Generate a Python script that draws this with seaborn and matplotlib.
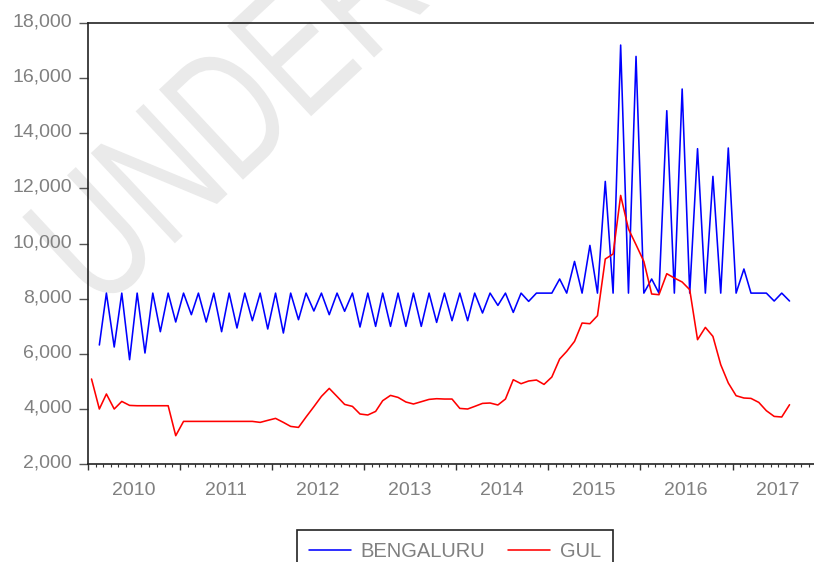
import matplotlib
matplotlib.use("Agg")
import matplotlib.pyplot as plt
import matplotlib.dates as mdates
import matplotlib.ticker as mticker
import matplotlib.patheffects as pe
from matplotlib.transforms import Affine2D, ScaledTranslation
import pandas as pd
import seaborn as sns

# monthly observations, Jan 2010 .. Aug 2017
months = pd.date_range("2010-01-01", periods=92, freq="MS")

# GUL starts Jan 2010
gul = [5084, 3995, 4540, 3995, 4271, 4126, 4114, 4114, 4114, 4114, 4114, 3027,
       3546, 3546, 3546, 3546, 3546, 3546, 3546, 3546, 3546, 3546, 3510, 3583,
       3655, 3510, 3364, 3328, 3705, 4079, 4453, 4743, 4450, 4162, 4090, 3814,
       3778, 3908, 4297, 4489, 4416, 4250, 4177, 4260, 4344, 4369, 4357, 4357,
       4017, 3995, 4090, 4199, 4213, 4141, 4357, 5058, 4913, 5011, 5047, 4888,
       5156, 5809, 6085, 6448, 7115, 7090, 7380, 9437, 9619, 11745, 10526, 9956,
       9350, 8168, 8142, 8904, 8748, 8603, 8324, 6510, 6956, 6630, 5603, 4939,
       4478, 4394, 4380, 4235, 3934, 3727, 3705, 4151]

# BENGALURU starts Feb 2010
bengaluru = [6317, 8200, 6245, 8200, 5784, 8200, 6027, 8200, 6800, 8200, 7152,
             8200, 7417, 8200, 7152, 8200, 6800, 8200, 6934, 8200, 7199, 8200, 6898,
             8200, 6752, 8200, 7235, 8200, 7551, 8200, 7417, 8200, 7540, 8200, 6970,
             8200, 6993, 8200, 6993, 8200, 6993, 8200, 6993, 8200, 7137, 8200, 7199,
             8200, 7199, 8200, 7478, 8200, 7754, 8200, 7500, 8200, 7900, 8200, 8200,
             8200, 8712, 8200, 9350, 8200, 9931, 8200, 12253, 8200, 17200, 8200, 16788,
             8200, 8712, 8200, 14818, 8200, 15605, 8200, 13440, 8200, 12435, 8200, 13465,
             8200, 9075, 8200, 8200, 8200, 7913, 8200, 7913]

series_names = ["BENGALURU", "GUL"]
series_colors = {"BENGALURU": "#0000ff", "GUL": "#ff0000"}

# points sit in the middle of each month
mid = months + pd.Timedelta(days=14)
df = pd.concat([
    pd.DataFrame({"date": mid[1:], "value": bengaluru, "series": "BENGALURU"}),
    pd.DataFrame({"date": mid, "value": gul, "series": "GUL"}),
], ignore_index=True)


# squeeze glyphs horizontally (the watermark font is a narrow one)
class Squeeze(pe.AbstractPathEffect):
    def __init__(self, sx):
        super().__init__()
        self._sx = sx

    def draw_path(self, renderer, gc, tpath, affine, rgbFace=None):
        renderer.draw_path(gc, tpath, Affine2D().scale(self._sx, 1.0) + affine, rgbFace)


sns.set_style("ticks")
plt.rcParams["font.family"] = ["Liberation Sans", "DejaVu Sans"]

grey = "#808080"
fig = plt.figure(figsize=(8.14, 5.62), dpi=100)
fig.patch.set_facecolor("white")
ax = fig.add_axes([88 / 814, 1 - 464 / 562, (814 - 88) / 814, (464 - 23) / 562])
ax.set_facecolor("none")

# watermark behind the axes
fig.text(99 / 814, 1 - 314 / 562, "UNDER", rotation=43, rotation_mode="anchor",
         ha="left", va="baseline", fontsize=129, color="#eaeaea", zorder=-1,
         path_effects=[Squeeze(0.72)])

sns.lineplot(data=df, x="date", y="value", hue="series", hue_order=series_names,
             palette=series_colors, estimator=None, sort=False, linewidth=1.15, ax=ax)

ax.set_xlim(pd.Timestamp("2010-01-01"), pd.Timestamp("2017-11-20"))
ax.set_ylim(2000, 18000)
ax.set_xlabel("")
ax.set_ylabel("")

ax.yaxis.set_major_locator(mticker.MultipleLocator(2000))
ax.yaxis.set_major_formatter(mticker.StrMethodFormatter("{x:,.0f}"))

ax.xaxis.set_major_locator(mdates.YearLocator())
ax.xaxis.set_major_formatter(mticker.NullFormatter())
ax.xaxis.set_minor_locator(mdates.MonthLocator())


def year_label(v, pos):
    d = mdates.num2date(v)
    return str(d.year) if d.month == 7 else ""


ax.xaxis.set_minor_formatter(mticker.FuncFormatter(year_label))

ax.tick_params(axis="x", which="major", bottom=True, length=4.5, width=1.0,
               color="#333333", direction="out")
ax.tick_params(axis="x", which="minor", bottom=True, length=2.5, width=0.8,
               color="#333333", direction="out", labelsize=14, labelcolor=grey, pad=10.5)
ax.tick_params(axis="y", left=True, length=6.5, width=1.0, color="#555555",
               pad=5, labelsize=14, labelcolor=grey)

# y labels sit a little above their ticks, as in the source
lift = ScaledTranslation(0, 3 / 100, fig.dpi_scale_trans)
for lbl in ax.get_yticklabels():
    lbl.set_transform(lbl.get_transform() + lift)

for side in ["left", "bottom", "top"]:
    ax.spines[side].set_visible(True)
    ax.spines[side].set_color("#222222")
    ax.spines[side].set_linewidth(1.2)
ax.spines["right"].set_visible(False)

handles, labels = ax.get_legend_handles_labels()
ax.get_legend().remove()
leg = fig.legend(handles, labels, loc="upper center", bbox_to_anchor=(455 / 814, 1 - 530 / 562),
                 ncol=2, fontsize=14.5, labelcolor=grey, frameon=True, fancybox=False,
                 edgecolor="#222222", framealpha=1, borderaxespad=0, borderpad=0.6,
                 handlelength=2.1, handletextpad=0.46, columnspacing=1.13)
leg.get_frame().set_linewidth(1.2)

fig.savefig("out.png", dpi=100)
